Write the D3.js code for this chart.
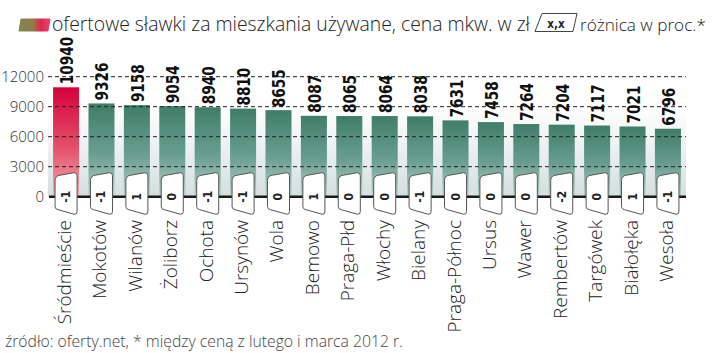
<!DOCTYPE html>
<html><head><meta charset="utf-8">
<script src="https://cdn.jsdelivr.net/npm/d3@7"></script>
<style>body{margin:0;background:#fff} svg{display:block}</style>
</head><body>
<svg id="c" width="720" height="353"></svg>
<script>
const categories = ["Śródmieście","Mokotów","Wilanów","Żoliborz","Ochota","Ursynów","Wola","Bemowo","Praga-Płd","Włochy","Bielany","Praga-Północ","Ursus","Wawer","Rembertów","Targówek","Białołęka","Wesoła"];
const prices = [10940,9326,9158,9054,8940,8810,8655,8087,8065,8064,8038,7631,7458,7264,7204,7117,7021,6796];
const changes = ["-1","-1","1","0","-1","-1","0","1","0","0","-1","0","0","0","-2","0","1","-1"];
const yTicks = [0,3000,6000,9000,12000];
const titleText = "ofertowe sławki za mieszkania używane, cena mkw. w zł";
const legendBoxText = "x,x";
const legendText2 = "różnica w proc.*";
const footerText = "źródło: oferty.net, * między ceną z lutego i marca 2012 r.";

const svg = d3.select("#c");
const x = d3.scaleBand().domain(categories).range([48, 686]).paddingInner(0.265).paddingOuter(0.143);
const y = d3.scaleLinear().domain([0, 12000]).range([196.7, 76.7]);
const y0 = y(0);

const defs = svg.append("defs");
function grad(id, stops) {
  const g = defs.append("linearGradient").attr("id", id).attr("x1",0).attr("y1",0).attr("x2",0).attr("y2",1);
  stops.forEach(s => g.append("stop").attr("offset", s[0]).attr("stop-color", s[1]));
}
grad("bg", [[0,"#ffffff"],[1,"#d4dfdf"]]);
grad("green", [[0,"#3f7d69"],[0.55,"#6a9f8f"],[1,"#b6d1c9"]]);
grad("red", [[0,"#d6003b"],[0.55,"#e4506a"],[1,"#f3a9b0"]]);
const lg = defs.append("linearGradient").attr("id","leg").attr("x1",0).attr("y1",0).attr("x2",1).attr("y2",0);
lg.append("stop").attr("offset",0).attr("stop-color","#7b8a4c");
lg.append("stop").attr("offset",0.45).attr("stop-color","#8f7a4c");
lg.append("stop").attr("offset",0.7).attr("stop-color","#e0264f");
lg.append("stop").attr("offset",1).attr("stop-color","#e6436a");

// background panel
svg.append("rect").attr("x", 48).attr("y", y(9000)).attr("width", 638).attr("height", y0 - y(9000)).attr("fill", "url(#bg)");

// bars
svg.append("g").selectAll("rect").data(categories).join("rect")
  .attr("x", d => x(d)).attr("width", x.bandwidth())
  .attr("y", (d,i) => y(prices[i])).attr("height", (d,i) => y0 - y(prices[i]))
  .attr("fill", (d,i) => i === 0 ? "url(#red)" : "url(#green)");

// gridlines
svg.append("g").selectAll("line").data(yTicks.filter(t => t > 0)).join("line")
  .attr("x1", 48).attr("x2", 686).attr("y1", d => y(d)).attr("y2", d => y(d))
  .attr("stroke", "#222").attr("stroke-width", 1).attr("stroke-dasharray", "4,3");

// baseline
svg.append("line").attr("x1", 49).attr("x2", 686).attr("y1", y0).attr("y2", y0)
  .attr("stroke", "#1a1a1a").attr("stroke-width", 2.6);

// y tick labels
svg.append("g").selectAll("text").data(yTicks).join("text")
  .attr("x", 44).attr("y", d => y(d)).attr("dy", "0.36em")
  .attr("text-anchor", "end").attr("font-family", "'Open Sans', sans-serif").attr("font-weight", 300)
  .attr("font-size", 15).attr("fill", "#333").text(d => d);

// change tags
const tags = svg.append("g").selectAll("g").data(categories).join("g");
tags.append("path").attr("d", d => {
  const a = x(d) + 2, b = x(d) + x.bandwidth() - 2;
  const tl = y0 - 21, tr = y0 - 24, bl = y0 + 13, br = y0 + 18;
  return `M${a},${tl + 5} Q${a},${tl} ${a + 5},${tl - 0.5} L${b - 3},${tr} Q${b},${tr} ${b},${tr + 3} L${b},${br - 3} Q${b},${br} ${b - 3},${br - 0.5} L${a + 3},${bl} Q${a},${bl - 0.5} ${a},${bl - 3} Z`;
}).attr("fill", "#fff").attr("stroke", "#555").attr("stroke-width", 1);
tags.append("text")
  .attr("transform", d => `translate(${x(d) + x.bandwidth()/2 + 4},${y0}) rotate(-90)`)
  .attr("text-anchor", "middle").attr("font-family", "'DejaVu Sans Condensed', 'DejaVu Sans', sans-serif")
  .attr("font-weight", "bold").attr("font-size", 12).attr("fill", "#222")
  .text((d,i) => changes[i]);

// value labels
const vl = svg.append("g").selectAll("text").data(categories).join("text")
  .attr("text-anchor", "start").attr("font-family", "'DejaVu Sans Condensed', 'DejaVu Sans', sans-serif")
  .attr("font-weight", "bold").attr("font-size", 18).attr("fill", "#111")
  .text((d,i) => prices[i]);
vl.each(function(d,i) {
  const w = this.getComputedTextLength();
  const target = 9.5 * String(prices[i]).length;
  const s = target / w;
  d3.select(this).attr("transform", `translate(${x(d) + x.bandwidth()/2 + 7},${y(prices[i]) - 3}) rotate(-90) scale(${s},1)`);
});

// category labels
svg.append("g").selectAll("text").data(categories).join("text")
  .attr("transform", d => `translate(${x(d) + x.bandwidth()/2 + 5},220) rotate(-90)`)
  .attr("text-anchor", "end").attr("font-family", "'Open Sans', sans-serif").attr("font-weight", 300)
  .attr("font-size", 19).attr("fill", "#222").text(d => d);

// legend / title
svg.append("path").attr("d", "M21,19 L50,19 L48,31 L19,31 Z").attr("fill", "url(#leg)")
  .attr("stroke", "url(#leg)").attr("stroke-width", 1).attr("stroke-linejoin", "round");
function fitText(sel, target) {
  const w = sel.node().getComputedTextLength();
  const fs = +sel.attr("font-size");
  sel.attr("font-size", fs * target / w);
}
const t1 = svg.append("text").attr("x", 52).attr("y", 31).attr("font-family", "'Open Sans', sans-serif").attr("font-weight", 300)
  .attr("font-size", 17).attr("fill", "#222").text(titleText);
fitText(t1, 478);
svg.append("path").attr("d", "M542,13.5 L577,13.5 L573,31.5 L535,31.5 Z")
  .attr("fill", "#fff").attr("stroke", "#444").attr("stroke-width", 1).attr("stroke-linejoin", "round");
svg.append("text").attr("x", 556).attr("y", 27.5).attr("text-anchor", "middle")
  .attr("font-family", "'DejaVu Sans Condensed', 'DejaVu Sans', sans-serif").attr("font-weight", "bold")
  .attr("font-size", 11.5).attr("fill", "#222").text(legendBoxText);
const t2 = svg.append("text").attr("x", 580).attr("y", 31).attr("font-family", "'Open Sans', sans-serif").attr("font-weight", 300)
  .attr("font-size", 17).attr("fill", "#222").text(legendText2);
fitText(t2, 126);

// footer
const f = svg.append("text").attr("x", 5).attr("y", 347).attr("font-family", "'Open Sans', sans-serif").attr("font-weight", 300)
  .attr("font-size", 14.5).attr("fill", "#444").text(footerText);
fitText(f, 398);
</script>
</body></html>
